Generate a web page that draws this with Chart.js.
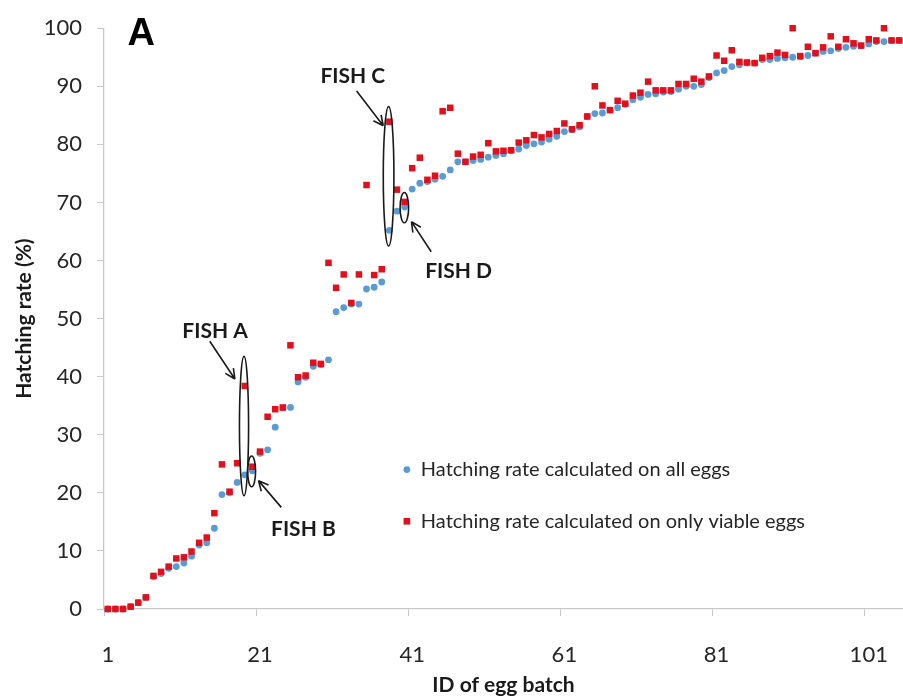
<!DOCTYPE html>
<html lang="en">
<head>
<meta charset="UTF-8">
<title>Hatching rate per egg batch</title>
<script src="https://cdn.jsdelivr.net/npm/chart.js"></script>
<style>
  html, body { margin: 0; padding: 0; background: #fff; }
  #wrap { width: 903px; height: 698px; }
</style>
</head>
<body>
<div id="wrap"><canvas id="hatchChart" width="903" height="698"></canvas></div>
<script>
  // batch ids 1..105 (x categories)
  const batchIds = Array.from({ length: 105 }, (_, i) => String(i + 1));
  const xTickLabels = ['1', '21', '41', '61', '81', '101'];

  // hatching rate calculated on all eggs (blue)
  const rateAllEggs = [
    0, 0, 0, 0.4, 1.1, 2.0, 5.6, 6.1, 7.0, 7.3,
    7.9, 9.1, 11.0, 11.4, 13.9, 19.7, 20.0, 21.8, 23.1, 23.8,
    26.8, 27.4, 31.3, 34.6, 34.7, 39.1, 39.9, 41.8, 42.1, 42.9,
    51.2, 51.9, 52.5, 52.5, 55.1, 55.4, 56.3, 65.2, 68.5, 69.2,
    72.3, 73.3, 73.6, 74.0, 74.5, 75.6, 77.0, 77.0, 77.2, 77.4,
    77.8, 78.1, 78.4, 78.9, 79.2, 79.8, 80.1, 80.4, 80.9, 81.4,
    82.2, 82.5, 83.0, 84.8, 85.3, 85.4, 85.9, 86.3, 86.9, 87.7,
    88.1, 88.6, 88.7, 89.0, 89.1, 89.5, 90.0, 90.0, 90.3, 91.5,
    92.3, 92.7, 93.4, 93.7, 94.0, 94.0, 94.6, 94.6, 94.8, 94.9,
    95.0, 95.1, 95.3, 95.7, 96.0, 96.1, 96.5, 96.7, 96.9, 97.0,
    97.3, 97.7, 97.7, 97.9, 97.9
  ];

  // hatching rate calculated on only viable eggs (red)
  const rateViableEggs = [
    0, 0, 0, 0.4, 1.1, 2.0, 5.7, 6.4, 7.3, 8.7,
    8.9, 9.9, 11.4, 12.3, 16.5, 24.9, 20.2, 25.1, 38.4, 24.5,
    27.1, 33.1, 34.4, 34.7, 45.4, 39.9, 40.2, 42.4, 42.2, 59.6,
    55.3, 57.6, 52.7, 57.6, 73.0, 57.5, 58.5, 83.9, 72.2, 70.1,
    75.9, 77.7, 73.9, 74.6, 85.7, 86.3, 78.4, 77.0, 77.9, 78.2,
    80.2, 78.8, 78.9, 79.0, 80.3, 80.7, 81.6, 81.2, 81.8, 82.3,
    83.6, 82.6, 83.3, 84.8, 90.0, 86.7, 85.9, 87.5, 87.0, 88.4,
    88.9, 90.8, 89.3, 89.3, 89.3, 90.4, 90.4, 91.3, 90.8, 91.7,
    95.3, 94.4, 96.2, 94.2, 94.1, 94.0, 94.9, 95.2, 95.8, 95.4,
    100, 95.2, 96.8, 95.7, 96.7, 98.6, 96.8, 98.1, 97.4, 97.0,
    98.1, 97.9, 100, 97.9, 97.9
  ];

  const seriesNames = [
    'Hatching rate calculated on all eggs',
    'Hatching rate calculated on only viable eggs'
  ];

  // callouts: ellipse (batch, value, half width in batches, half height in %),
  // label position and arrow from -> tip, all in axis units
  const callouts = [
    { label: 'FISH A', ell: [18.9, 31.5, 0.6, 12.0], text: [15.1, 47.8], arrow: [14.4, 46.1, 17.7, 39.6] },
    { label: 'FISH B', ell: [19.9, 23.7, 0.52, 2.65], text: [26.7, 13.8], arrow: [23.8, 17.5, 20.8, 22.1] },
    { label: 'FISH C', ell: [37.9, 74.5, 0.7, 12.0], text: [33.2, 91.7], arrow: [33.7, 89.2, 37.2, 83.2] },
    { label: 'FISH D', ell: [39.97, 69.1, 0.56, 2.6], text: [47.1, 58.2], arrow: [43.5, 61.5, 40.9, 66.7] }
  ];

  const BLUE = '#5b9bd5';
  const RED = '#e3101c';

  Chart.defaults.font.family = "Lato, 'Liberation Sans', sans-serif";
  Chart.defaults.color = '#262626';

  const calloutPlugin = {
    id: 'callouts',
    afterDatasetsDraw(chart) {
      const { ctx, scales: { x, y } } = chart;
      const px = b => x.getPixelForValue(b - 1);
      const py = v => y.getPixelForValue(v);
      ctx.save();
      ctx.strokeStyle = '#1a1a1a';
      ctx.fillStyle = '#1a1a1a';
      ctx.lineWidth = 1.6;
      callouts.forEach(c => {
        const [eb, ev, ew, eh] = c.ell;
        const cx = px(eb), cy = py(ev);
        const rx = Math.abs(px(eb + ew) - cx), ry = Math.abs(py(ev + eh) - cy);
        ctx.beginPath();
        ctx.ellipse(cx, cy, rx, ry, 0, 0, Math.PI * 2);
        ctx.stroke();

        const [b0, v0, b1, v1] = c.arrow;
        const x0 = px(b0), y0 = py(v0), x1 = px(b1), y1 = py(v1);
        ctx.beginPath();
        ctx.moveTo(x0, y0);
        ctx.lineTo(x1, y1);
        const ang = Math.atan2(y1 - y0, x1 - x0);
        const head = 11;
        [-0.45, 0.45].forEach(d => {
          ctx.moveTo(x1, y1);
          ctx.lineTo(x1 - head * Math.cos(ang + d), y1 - head * Math.sin(ang + d));
        });
        ctx.stroke();

        ctx.font = "bold 21px Lato, 'Liberation Sans', sans-serif";
        ctx.textAlign = 'center';
        ctx.textBaseline = 'middle';
        ctx.fillText(c.label, px(c.text[0]), py(c.text[1]));
      });

      // panel letter
      ctx.font = "900 38px 'Liberation Sans', Arial, sans-serif";
      ctx.textAlign = 'center';
      ctx.textBaseline = 'middle';
      ctx.fillStyle = '#000';
      ctx.fillText('A', px(5.4), py(98.9));

      // legend inside plot
      const lx = px(40.3);
      ctx.font = "20px Lato, 'Liberation Sans', sans-serif";
      ctx.textAlign = 'left';
      ctx.fillStyle = '#262626';
      ctx.fillText(seriesNames[0], lx + 14, py(24.0));
      ctx.fillText(seriesNames[1], lx + 14, py(15.1));
      ctx.fillStyle = BLUE;
      ctx.beginPath();
      ctx.arc(lx, py(24.0), 3.4, 0, Math.PI * 2);
      ctx.fill();
      ctx.fillStyle = RED;
      ctx.fillRect(lx - 3.3, py(15.1) - 3.3, 6.6, 6.6);
      ctx.restore();
    }
  };

  new Chart(document.getElementById('hatchChart'), {
    type: 'line',
    data: {
      labels: batchIds,
      datasets: [
        {
          label: seriesNames[0],
          data: rateAllEggs,
          showLine: false,
          clip: false,
          pointStyle: 'circle',
          pointRadius: 3.4,
          pointBorderWidth: 0,
          pointBackgroundColor: BLUE,
          borderColor: BLUE,
          order: 2
        },
        {
          label: seriesNames[1],
          data: rateViableEggs,
          showLine: false,
          clip: false,
          pointStyle: 'rect',
          pointRadius: 4.6,
          pointBorderWidth: 0,
          pointBackgroundColor: RED,
          borderColor: RED,
          order: 1
        }
      ]
    },
    options: {
      responsive: false,
      animation: false,
      devicePixelRatio: 1,
      // the plot runs to the right edge of the picture
      layout: { autoPadding: false, padding: { top: 25, right: -0.5, bottom: 0, left: 0 } },
      plugins: {
        legend: { display: false },
        tooltip: { enabled: false }
      },
      scales: {
        x: {
          type: 'category',
          offset: true,
          afterFit: s => { s.height = 89; s.paddingLeft = 0; s.paddingRight = 0; },
          border: { display: true, color: '#c8c8c8', width: 1.3 },
          grid: {
            offset: true,
            drawOnChartArea: false,
            tickLength: 7,
            color: ctx => (ctx.index % 20 === 0 ? '#c8c8c8' : 'rgba(0,0,0,0)')
          },
          ticks: {
            autoSkip: false,
            maxRotation: 0,
            minRotation: 0,
            padding: 26,
            font: { size: 22 },
            color: '#262626',
            callback: function (value, index) {
              const lab = this.getLabelForValue(value);
              return xTickLabels.includes(lab) ? lab : '';
            }
          },
          title: {
            display: true,
            text: 'ID of egg batch',
            font: { size: 21, weight: 'bold' },
            color: '#1a1a1a',
            padding: { top: 0, bottom: 0 }
          }
        },
        y: {
          min: 0,
          max: 100,
          afterFit: s => { s.width = 104; },
          border: { display: true, color: '#c8c8c8', width: 1.3 },
          grid: { drawOnChartArea: false, tickLength: 7, color: '#c8c8c8' },
          ticks: {
            stepSize: 10,
            padding: 15,
            font: { size: 22 },
            color: '#262626'
          },
          title: {
            display: true,
            text: 'Hatching rate (%)',
            font: { size: 21, weight: 'bold' },
            color: '#1a1a1a',
            padding: { top: 12, bottom: 0 }
          }
        }
      }
    },
    plugins: [calloutPlugin]
  });
</script>
</body>
</html>
